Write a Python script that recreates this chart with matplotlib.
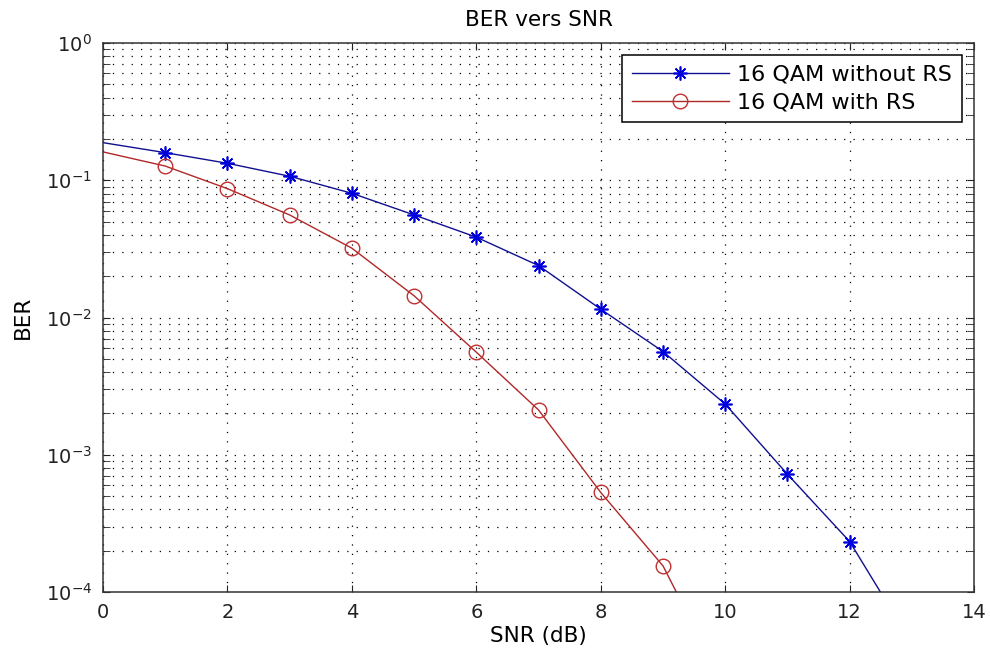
import matplotlib.pyplot as plt
from matplotlib.ticker import LogLocator, FixedLocator

plt.rcParams['font.family'] = ['DejaVu Sans']
plt.rcParams['mathtext.fontset'] = 'dejavusans'

# values
snr = [0, 1, 2, 3, 4, 5, 6, 7, 8, 9, 10, 11, 12, 13]
ber_no_rs = [0.188, 0.159, 0.133, 0.107, 0.0804, 0.0559, 0.0385, 0.0239,
             0.0115, 0.00565, 0.00234, 0.000721, 0.000233, 4.2e-5]
snr_rs = [0, 1, 2, 3, 4, 5, 6, 7, 8, 9, 10]
ber_rs = [0.161, 0.127, 0.0869, 0.0559, 0.032, 0.0144, 0.00559, 0.00212,
          0.000531, 0.000155, 2.0e-5]

fig = plt.figure(figsize=(9.9, 6.52), dpi=100)
ax = fig.add_axes([0.104, 0.092, 0.880, 0.842])

ax.semilogy(snr, ber_no_rs, color='#101090', lw=1, marker=(8, 2, 0), ms=10,
            mec='#0000dd', mew=1.2, markevery=slice(1, 13),
            label='16 QAM without RS')
ax.semilogy(snr_rs, ber_rs, color='#b02828', lw=1, marker='o', ms=10.5,
            mec='#c03030', mfc='none', mew=1, markevery=slice(1, 10),
            label='16 QAM with RS')

ax.set_xlim(0, 14)
ax.set_ylim(1e-4, 1)
ax.xaxis.set_major_locator(FixedLocator(range(0, 15, 2)))
ax.yaxis.set_major_locator(LogLocator(base=10))
ax.yaxis.set_minor_locator(LogLocator(base=10, subs=range(2, 10)))
dots = (0, (1, 6.5))
ax.grid(True, which='major', color='k', linestyle=dots, lw=0.9)
ax.grid(True, which='minor', axis='y', color='k', linestyle=dots, lw=0.9)
ax.tick_params(which='both', direction='in', top=True, right=True,
               labelsize=14, colors='#222222')
ax.tick_params(which='major', length=5, pad=8)
ax.tick_params(which='minor', length=5)
for s in ax.spines.values():
    s.set_linewidth(1.1)
    s.set_color('#333333')

ax.set_title('BER vers SNR', fontsize=15.5, pad=12)
ax.set_xlabel('SNR (dB)', fontsize=15.5, labelpad=3)
ax.set_ylabel('BER', fontsize=15.5, labelpad=9)

leg = ax.legend(loc='upper right', fontsize=16, fancybox=False,
                framealpha=1, edgecolor='k', borderpad=0.45,
                handlelength=4.4, handletextpad=0.35, labelspacing=0.35,
                borderaxespad=0, bbox_to_anchor=(0.986, 0.979))
leg.get_frame().set_linewidth(1.1)

fig.savefig('out.png', dpi=100)
